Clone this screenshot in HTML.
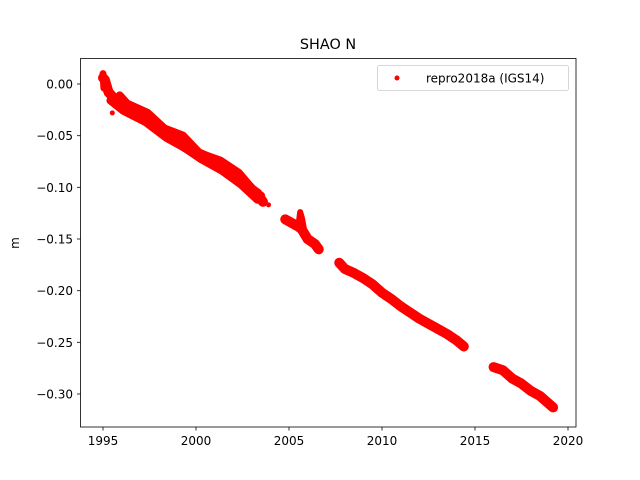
<!DOCTYPE html>
<html><head><meta charset="utf-8"><style>body{margin:0;background:#fff}svg{display:block;font-family:"DejaVu Sans","Liberation Sans",sans-serif}</style></head>
<body>
<svg width="640" height="480" viewBox="0 0 640 480" xmlns="http://www.w3.org/2000/svg">
<rect width="640" height="480" fill="#fff"/>
<text x="328" y="49" font-size="14.4" text-anchor="middle">SHAO N</text>
<g transform="translate(103,84) scale(18.6,-1033.3)" fill="none" stroke="red" stroke-linecap="round" stroke-linejoin="round">
<polyline vector-effect="non-scaling-stroke" stroke-width="10" points="0,0.006 0.1,0.004 0.3,-0.008 0.6,-0.014 1,-0.02 1.5,-0.025 2,-0.031 2.5,-0.036 3,-0.042 3.5,-0.048 4,-0.056 4.4,-0.061 5,-0.066 5.5,-0.07 6,-0.075 6.5,-0.081 7,-0.087 7.5,-0.093 8,-0.102 8.3,-0.106 8.6,-0.114"/>
<polyline vector-effect="non-scaling-stroke" stroke-width="7" points="0,0.01 0.05,-0.004"/>
<polyline vector-effect="non-scaling-stroke" stroke-width="8" points="0.9,-0.011 1.3,-0.019 2.4,-0.028 3.3,-0.043 4.3,-0.05 5.2,-0.067 6.3,-0.074 7.3,-0.086 8.2,-0.105 8.5,-0.108"/>
<polyline vector-effect="non-scaling-stroke" stroke-width="8" points="0.4,-0.016 1.1,-0.026 2.3,-0.037 3.4,-0.052 4.4,-0.062 5.3,-0.073 6.4,-0.084 7.4,-0.097 8.3,-0.112"/>
<polyline vector-effect="non-scaling-stroke" stroke-width="10" points="9.8,-0.131 10.2,-0.135 10.5,-0.138 10.7,-0.141 11,-0.15 11.4,-0.155 11.6,-0.16"/>
<polyline vector-effect="non-scaling-stroke" stroke-width="6" points="10.5,-0.138 10.6,-0.124 10.7,-0.13 10.8,-0.14"/>
<polyline vector-effect="non-scaling-stroke" stroke-width="10" points="12.7,-0.173 13,-0.179 13.5,-0.183 14,-0.188 14.5,-0.194 15,-0.202 15.5,-0.208 16,-0.215 16.5,-0.221 17,-0.227 17.5,-0.232 18,-0.237 18.5,-0.242 19,-0.248 19.4,-0.254"/>
<polyline vector-effect="non-scaling-stroke" stroke-width="10" points="21,-0.274 21.5,-0.277 22,-0.285 22.5,-0.29 23,-0.297 23.5,-0.302 24.2,-0.313"/>
<polyline vector-effect="non-scaling-stroke" stroke-width="5" points="0.5,-0.028 0.5,-0.028"/>
<polyline vector-effect="non-scaling-stroke" stroke-width="5" points="8.9,-0.117 8.9,-0.117"/>
</g>
<rect x="80.5" y="58.5" width="495.5" height="368.5" fill="none" stroke="#000" stroke-width="0.8"/>
<g stroke="#000" stroke-width="0.8">
<line x1="103" y1="427" x2="103" y2="430.5"/><line x1="196" y1="427" x2="196" y2="430.5"/><line x1="289" y1="427" x2="289" y2="430.5"/><line x1="382" y1="427" x2="382" y2="430.5"/><line x1="475" y1="427" x2="475" y2="430.5"/><line x1="568" y1="427" x2="568" y2="430.5"/>
<line x1="77" y1="84" x2="80.5" y2="84"/><line x1="77" y1="135.7" x2="80.5" y2="135.7"/><line x1="77" y1="187.3" x2="80.5" y2="187.3"/><line x1="77" y1="239" x2="80.5" y2="239"/><line x1="77" y1="290.7" x2="80.5" y2="290.7"/><line x1="77" y1="342.3" x2="80.5" y2="342.3"/><line x1="77" y1="394" x2="80.5" y2="394"/>
</g>
<g font-size="12" text-anchor="middle">
<text x="103" y="445">1995</text><text x="196" y="445">2000</text><text x="289" y="445">2005</text><text x="382" y="445">2010</text><text x="475" y="445">2015</text><text x="568" y="445">2020</text>
</g>
<g font-size="12" text-anchor="end">
<text x="73" y="88.5">0.00</text><text x="73" y="140.2">−0.05</text><text x="73" y="191.8">−0.10</text><text x="73" y="243.5">−0.15</text><text x="73" y="295.2">−0.20</text><text x="73" y="346.8">−0.25</text><text x="73" y="398.5">−0.30</text>
</g>
<text transform="translate(19,243) rotate(-90)" font-size="12" text-anchor="middle">m</text>
<rect x="377.5" y="65.5" width="191" height="25" rx="2" fill="#fff" stroke="#ccc" stroke-width="0.8"/>
<circle cx="397" cy="78" r="2.5" fill="red"/>
<text x="426" y="82.5" font-size="12">repro2018a (IGS14)</text>
</svg>
</body></html>
